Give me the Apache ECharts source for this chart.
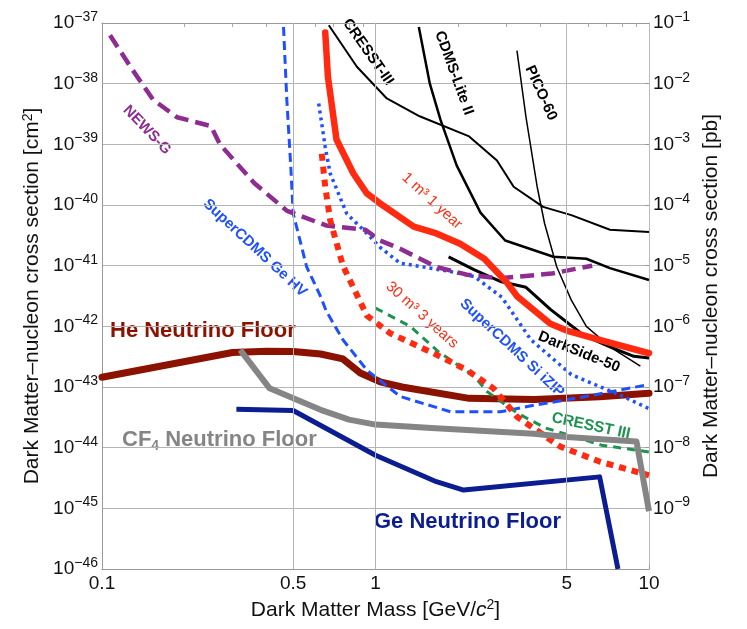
<!DOCTYPE html>
<html><head><meta charset="utf-8">
<script src="https://cdn.jsdelivr.net/npm/echarts@6/dist/echarts.min.js"></script>
<style>html,body{margin:0;padding:0;background:#fff}#c{width:747px;height:629px}</style>
</head><body><div id="c"></div>
<script>
// ---- data (mass in GeV/c^2, cross section in cm^2) ----
const xTickLabels = [0.1, 0.5, 1, 5, 10];
const xGridLines = [0.5, 1, 5];
const xMinorTicks = [0.2,0.3,0.4,0.5,0.6,0.7,0.8,0.9,2,3,4,5,6,7,8,9];
const yExtentCm2 = [1e-46, 1e-37];
const CM2_PER_PB = 1e-36;

const heFloor = [[0.1,1.45e-43],[0.3,3.7e-43],[0.4,3.9e-43],[0.5,3.85e-43],[0.63,3.5e-43],[0.76,2.9e-43],[0.88,1.7e-43],[1.05,1.2e-43],[1.25,1.0e-43],[2.2,6.5e-44],[3.8,6.2e-44],[6.6,6.9e-44],[10,7.9e-44]];
const cf4Floor = [[0.32,4.1e-43],[0.41,9.5e-44],[0.63,4.2e-44],[0.8,2.9e-44],[1.0,2.4e-44],[1.6,2.1e-44],[3.8,1.7e-44],[5,1.5e-44],[9.0,1.26e-44],[10,9e-46]];
const geFloor = [[0.31,4.3e-44],[0.5,4.1e-44],[1.0,7.5e-45],[1.67,2.75e-45],[2.1,2.0e-45],[6.6,3.3e-45],[7.7,1e-46]];
const newsG = [[0.107,6.3e-38],[0.127,1.9e-38],[0.154,5.4e-39],[0.188,2.8e-39],[0.25,2.0e-39],[0.27,1.0e-39],[0.36,2.3e-40],[0.475,8e-41],[0.66,4.6e-41],[0.92,3.9e-41],[1.04,2.6e-41],[1.23,1.9e-41],[1.67,9.5e-42],[2.16,7.1e-42],[2.86,6.2e-42],[4.4,7.4e-42],[6.2,1.0e-41]];
const superCdmsGeHV = [[0.461,8.6e-38],[0.474,5.4e-39],[0.49,4.3e-40],[0.50,7.3e-41],[0.56,9.6e-42],[0.63,3.1e-42],[0.66,1.8e-42],[0.76,6e-43],[0.93,1.9e-43],[1.23,7e-44],[1.88,3.9e-44],[2.86,3.9e-44],[3.8,5e-44],[5.8,6.9e-44],[10,1.1e-43]];
const superCdmsSiIZIP = [[0.62,4.7e-39],[0.655,9e-40],[0.683,3.3e-40],[0.785,7.2e-41],[0.93,3.4e-41],[1.04,2.0e-41],[1.23,1.1e-41],[1.88,8e-42],[2.3,6.6e-42],[2.9,3e-42],[3.7,6e-43],[5.2,1.6e-43],[8.1,6.9e-44],[10,4.4e-44]];
const oneM3OneYear = [[0.655,7e-38],[0.67,1.3e-38],[0.72,1.2e-39],[0.83,3.3e-40],[0.93,1.55e-40],[1.04,1.06e-40],[1.38,4.4e-41],[1.67,3.4e-41],[2.04,2.3e-41],[2.5,1.3e-41],[3.0,5.5e-42],[3.3,3.1e-42],[4.36,1.1e-42],[5.0,8.5e-43],[6.6,6e-43],[10,3.6e-43]];
const thirtyM3ThreeYears = [[0.636,7e-40],[0.655,2e-40],[0.683,5.6e-41],[0.76,1e-41],[0.93,1.5e-42],[1.13,7.7e-43],[1.63,3.6e-43],[2.16,1.9e-43],[2.7,9.5e-44],[3.3,3.2e-44],[4.74,1.04e-44],[6.6,5.9e-45],[10,3.5e-45]];
const cresst3Projected = [[1.0,2e-42],[1.34,1e-42],[1.7,3.8e-43],[2.3,1.5e-43],[2.55,8.5e-44],[3.3,3.7e-44],[4.2,2.1e-44],[6.7,1.1e-44],[10,8.5e-45]];
const cresstIII = [[0.675,9.2e-38],[0.855,1.9e-38],[1.1,5.7e-39],[1.45,2.9e-39],[2.2,1.35e-39],[2.78,5.4e-40],[3.2,2.0e-40],[4.1,9.3e-41],[5.2,6.8e-41],[7.2,3.9e-41],[10,3.6e-41]];
const cdmsLiteII = [[1.44,8.6e-38],[1.58,1e-38],[1.73,2.5e-39],[1.98,4.5e-40],[2.42,7.5e-41],[2.98,2.6e-41],[4.47,1.4e-41],[5.9,1.3e-41],[7.2,9.1e-42],[10,5.8e-42]];
const pico60 = [[3.29,3.5e-38],[3.55,2.8e-39],[3.9,2e-40],[4.15,5e-41],[4.6,9.5e-42],[5.2,2.7e-42],[5.9,1e-42],[7.2,4.6e-43],[9.3,2.2e-43]];
const darkSide50 = [[1.85,1.4e-41],[2.3,8.5e-42],[2.86,5.5e-42],[3.55,4.4e-42],[4.36,1.9e-42],[5.8,7e-43],[7.2,4.6e-43],[8.8,3.2e-43],[10,3e-43]];

// ---- chart ----
// Both y axes share one scale expressed in pb (1 pb = 1e-36 cm^2); left axis labels show cm^2.
const toPb = arr => arr.map(([m, s]) => [m, s / CM2_PER_PB]);
const yMinPb = yExtentCm2[0] / CM2_PER_PB, yMaxPb = yExtentCm2[1] / CM2_PER_PB;
const FF = '"Liberation Sans", Arial, Helvetica, sans-serif';
const supRich = {
  b: {fontSize: 19, lineHeight: 26, fontFamily: FF, color: '#111'},
  s: {fontSize: 14, lineHeight: 14, verticalAlign: 'top', fontFamily: FF, color: '#111'}
};
function expLabel(v, shift, hide) {
  const e = Math.round(Math.log10(v)) + shift;
  if (hide && hide(e)) return '';
  return '{b|10}{s|' + (e < 0 ? '\u2212' : '') + Math.abs(e) + '}';
}
function mk(name, data, color, width, type, z, cap) {
  return {name, type: 'line', data: toPb(data), symbol: 'none', showSymbol: false, silent: true, animation: false,
    clip: true, z: z || 2,
    lineStyle: {color, width, type: type || 'solid', cap: cap || 'butt', join: 'round'}};
}
const chart = echarts.init(document.getElementById('c'), null, {renderer: 'canvas'});
const gridSeries = {
  type: 'line', data: [], silent: true, z: 1, animation: false,
  markLine: {silent: true, symbol: 'none', animation: false, label: {show: false},
    lineStyle: {color: '#b4b4b4', width: 1, type: 'solid'},
    data: xGridLines.map(v => ({xAxis: v}))}
};
const labelStyle = (text, color, size, weight) => ({text, fill: color, fontSize: size, fontWeight: weight || 'bold', fontFamily: FF, align: 'center', verticalAlign: 'middle'});
const deg = d => d * Math.PI / 180;
chart.setOption({
  animation: false,
  backgroundColor: '#fff',
  grid: {left: 102, top: 23, width: 547, height: 546, containLabel: false, outerBoundsMode: 'none'},
  xAxis: [{
    type: 'log', logBase: 10, min: 0.1, max: 10, position: 'bottom',
    axisLine: {show: true, onZero: false, lineStyle: {color: '#999', width: 1}},
    axisTick: {show: true, inside: true, length: 4, lineStyle: {color: '#999'}, customValues: xTickLabels},
    axisLabel: {show: true, margin: 5, fontSize: 19, fontFamily: FF, color: '#111', showMinLabel: true, showMaxLabel: true,
      customValues: xTickLabels, formatter: v => String(+(+v).toPrecision(3))},
    splitLine: {show: false},
    name: 'Dark Matter Mass [GeV/{i|c}{s|2}]', nameLocation: 'middle', nameGap: 27,
    nameTextStyle: {fontSize: 21, fontFamily: FF, color: '#111',
      rich: {i: {fontSize: 21, fontStyle: 'italic', fontFamily: FF, color: '#111', lineHeight: 25},
             s: {fontSize: 14, verticalAlign: 'top', lineHeight: 14, fontFamily: FF, color: '#111'}}}
  }, {
    type: 'log', logBase: 10, min: 0.1, max: 10, position: 'top',
    axisLine: {show: true, onZero: false, lineStyle: {color: '#999', width: 1}},
    axisTick: {show: true, inside: true, length: 4, lineStyle: {color: '#aaa'}, customValues: xMinorTicks},
    axisLabel: {show: false}, splitLine: {show: false}
  }],
  yAxis: [{
    type: 'log', logBase: 10, min: yMinPb, max: yMaxPb, interval: 1, position: 'left',
    axisLine: {show: true, onZero: false, lineStyle: {color: '#999', width: 1}},
    axisTick: {show: false},
    axisLabel: {margin: 4, formatter: v => expLabel(v, -36), rich: supRich, showMinLabel: true, showMaxLabel: true},
    splitLine: {show: true, lineStyle: {color: '#b4b4b4', width: 1}},
    name: 'Dark Matter\u2013nucleon cross section [cm{s|2}]', nameLocation: 'middle', nameGap: 58, nameRotate: 90,
    nameTextStyle: {fontSize: 21, fontFamily: FF, color: '#111',
      rich: {s: {fontSize: 14, verticalAlign: 'top', lineHeight: 14, fontFamily: FF, color: '#111'}}}
  }, {
    type: 'log', logBase: 10, min: yMinPb, max: yMaxPb, interval: 1, position: 'right',
    axisLine: {show: true, onZero: false, lineStyle: {color: '#bbb', width: 1}},
    axisTick: {show: true, inside: true, length: 4, lineStyle: {color: '#999'}},
    axisLabel: {margin: 4, formatter: v => expLabel(v, 0, e => e <= -10), rich: supRich, showMinLabel: true, showMaxLabel: true},
    splitLine: {show: false},
    name: 'Dark Matter\u2013nucleon cross section [pb]', nameLocation: 'middle', nameGap: 44, nameRotate: 90,
    nameTextStyle: {fontSize: 21, fontFamily: FF, color: '#111'}
  }],
  series: [
    gridSeries,
    mk('He Neutrino Floor', heFloor, '#8C1200', 7, 'solid', 2, 'round'),
    mk('CRESST-III', cresstIII, '#000', 2),
    mk('CDMS-Lite II', cdmsLiteII, '#000', 2.5),
    mk('PICO-60', pico60, '#000', 1.5),
    mk('DarkSide-50', darkSide50, '#000', 3),
    mk('SuperCDMS Ge HV', superCdmsGeHV, '#1E50FF', 3, [9, 5]),
    mk('SuperCDMS Si iZIP', superCdmsSiIZIP, '#1E50FF', 3.5, [3, 4]),
    mk('NEWS-G', newsG, '#8E2C92', 4.5, [14, 7]),
    mk('CRESST III', cresst3Projected, '#1E9350', 3, [8, 6]),
    mk('30 m3 3 years', thirtyM3ThreeYears, '#FF2A10', 6, [7, 6]),
    mk('1 m3 1 year', oneM3OneYear, '#FF2A10', 6.5, 'solid', 3, 'round'),
    mk('Ge Neutrino Floor', geFloor, '#0B1D91', 5, 'solid', 3),
    mk('CF4 Neutrino Floor', cf4Floor, '#858585', 6, 'solid', 3)
  ],
  graphic: [
    {type: 'text', x: 368, y: 52, rotation: deg(-55), style: labelStyle('CRESST-III', '#000', 15)},
    {type: 'text', x: 454, y: 73, rotation: deg(-70), style: labelStyle('CDMS-Lite II', '#000', 15)},
    {type: 'text', x: 541, y: 93, rotation: deg(-66), style: labelStyle('PICO-60', '#000', 15)},
    {type: 'text', x: 147, y: 130, rotation: deg(-46), style: labelStyle('NEWS-G', '#8E2C92', 15)},
    {type: 'text', x: 255, y: 248, rotation: deg(-43), style: labelStyle('SuperCDMS Ge HV', '#1E50FF', 15)},
    {type: 'text', x: 432, y: 201, rotation: deg(-42.5), style: labelStyle('1 m\u00b3 1 year', '#FF2A10', 15, 'normal')},
    {type: 'text', x: 422, y: 315, rotation: deg(-42), style: labelStyle('30 m\u00b3 3 years', '#FF2A10', 15, 'normal')},
    {type: 'text', x: 512, y: 348, rotation: deg(-43), style: labelStyle('SuperCDMS Si iZIP', '#1E50FF', 15)},
    {type: 'text', x: 579, y: 352, rotation: deg(-22), style: labelStyle('DarkSide-50', '#000', 15)},
    {type: 'text', x: 591, y: 426, rotation: deg(-12), style: labelStyle('CRESST III', '#1E9350', 15.5)},
    {type: 'text', x: 110, y: 331, style: {text: 'He Neutrino Floor', fill: '#8C1200', fontSize: 22, fontWeight: 'bold', fontFamily: FF, align: 'left', verticalAlign: 'middle'}},
    {type: 'text', x: 122, y: 440, style: {text: 'CF{sub|4} Neutrino Floor', fill: '#858585', fontSize: 22, fontWeight: 'bold', fontFamily: FF, align: 'left', verticalAlign: 'middle', lineHeight: 26,
      rich: {sub: {fontSize: 14, fontWeight: 'bold', fontFamily: FF, fill: '#858585', verticalAlign: 'bottom', lineHeight: 16}}}},
    {type: 'text', x: 374, y: 522, style: {text: 'Ge Neutrino Floor', fill: '#0B1D91', fontSize: 22, fontWeight: 'bold', fontFamily: FF, align: 'left', verticalAlign: 'middle'}}
  ]
});
</script>
</body></html>
